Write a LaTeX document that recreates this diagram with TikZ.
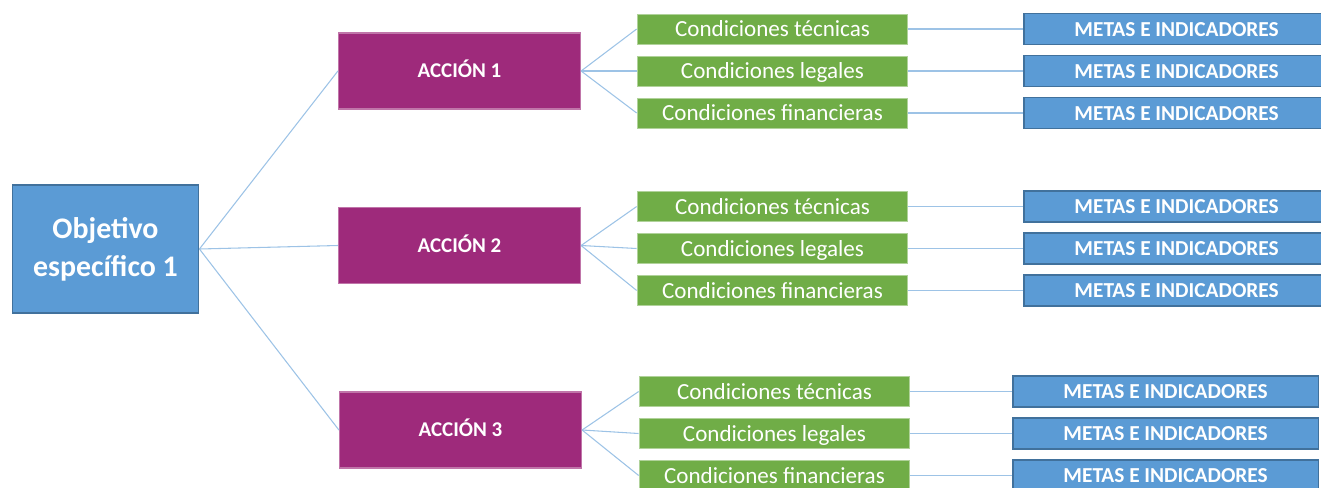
\documentclass[tikz,border=0pt]{standalone}
\usepackage{fontspec}
\setmainfont{Carlito}
\usepackage{xcolor}
\definecolor{objBlue}{HTML}{5B9BD5}
\definecolor{objBlueDark}{HTML}{41719C}
\definecolor{accPurple}{HTML}{9E2A7B}
\definecolor{condGreen}{HTML}{70AD47}
\definecolor{linkBlue}{HTML}{9DC3E6}
\usepackage{tikz}
\usetikzlibrary{positioning}

\begin{document}
\begin{tikzpicture}[
    x=0.75pt, y=-0.75pt,
    node distance=8.25pt,
    box/.style     ={rectangle, draw, line width=0.9pt, align=center,
                     text=white, inner sep=0pt},
    objetivo/.style={box, fill=objBlue, draw=objBlueDark,
                     minimum width=140pt, minimum height=96pt,
                     font=\bfseries\fontsize{22.4}{28.5}\selectfont},
    accion/.style  ={box, fill=accPurple, draw=accPurple!65!white,
                     minimum width=181.5pt, minimum height=57pt,
                     text height=10pt, text depth=0pt,
                     font=\bfseries\fontsize{15.75}{19}\selectfont},
    cond/.style    ={box, fill=condGreen, draw=condGreen!55!white,
                     line width=0.75pt,
                     minimum width=203pt, minimum height=22.5pt,
                     text height=12pt, text depth=0.6pt,
                     font=\fontsize{17.3}{21}\selectfont},
    metas/.style   ={box, fill=objBlue, draw=objBlueDark,
                     minimum width=229pt, minimum height=23.25pt,
                     text height=10.5pt, text depth=0pt,
                     font=\bfseries\fontsize{16}{19}\selectfont},
    link/.style    ={draw=linkBlue, line width=0.8pt}
]
\useasboundingbox (0,0) rectangle (1321,487);

\node[objetivo] (obj) at (105.5,249) {Objetivo\\específico 1};

% acciones
\node[accion] (acc1) at (459.5,71)    {ACCIÓN 1};
\node[accion] (acc2) at (459.5,245.5) {ACCIÓN 2};
\node[accion] (acc3) at (460.5,430)   {ACCIÓN 3};

% condiciones
\node[cond]                 (tec1) at (772.5,29) {Condiciones técnicas};
\node[cond, below=of tec1]  (leg1)               {Condiciones legales};
\node[cond, below=of leg1]  (fin1)               {Condiciones financieras};

\node[cond]                 (tec2) at (772.5,206.5) {Condiciones técnicas};
\node[cond, below=of tec2]  (leg2)                  {Condiciones legales};
\node[cond, below=of leg2]  (fin2)                  {Condiciones financieras};

\node[cond]                 (tec3) at (774.5,391.5) {Condiciones técnicas};
\node[cond, below=of tec3]  (leg3)                  {Condiciones legales};
\node[cond, below=of leg3]  (fin3)                  {Condiciones financieras};

% metas
\node[metas, right=86.25pt of tec1] (metTec1) {METAS E INDICADORES};
\node[metas, right=86.25pt of leg1] (metLeg1) {METAS E INDICADORES};
\node[metas, right=86.25pt of fin1] (metFin1) {METAS E INDICADORES};

\node[metas, right=86.25pt of tec2] (metTec2) {METAS E INDICADORES};
\node[metas, right=86.25pt of leg2] (metLeg2) {METAS E INDICADORES};
\node[metas, right=86.25pt of fin2] (metFin2) {METAS E INDICADORES};

\node[metas, right=76.5pt of tec3] (metTec3) {METAS E INDICADORES};
\node[metas, right=76.5pt of leg3] (metLeg3) {METAS E INDICADORES};
\node[metas, right=76.5pt of fin3] (metFin3) {METAS E INDICADORES};

\draw[link] (obj.east) -- (acc1.west);
\draw[link] (obj.east) -- (acc2.west);
\draw[link] (obj.east) -- (acc3.west);

\draw[link] (acc1.east) -- (tec1.west);
\draw[link] (acc1.east) -- (leg1.west);
\draw[link] (acc1.east) -- (fin1.west);
\draw[link] (acc2.east) -- (tec2.west);
\draw[link] (acc2.east) -- (leg2.west);
\draw[link] (acc2.east) -- (fin2.west);
\draw[link] (acc3.east) -- (tec3.west);
\draw[link] (acc3.east) -- (leg3.west);
\draw[link] (acc3.east) -- (fin3.west);

\draw[link] (tec1) -- (metTec1);
\draw[link] (leg1) -- (metLeg1);
\draw[link] (fin1) -- (metFin1);
\draw[link] (tec2) -- (metTec2);
\draw[link] (leg2) -- (metLeg2);
\draw[link] (fin2) -- (metFin2);
\draw[link] (tec3) -- (metTec3);
\draw[link] (leg3) -- (metLeg3);
\draw[link] (fin3) -- (metFin3);
\end{tikzpicture}
\end{document}
